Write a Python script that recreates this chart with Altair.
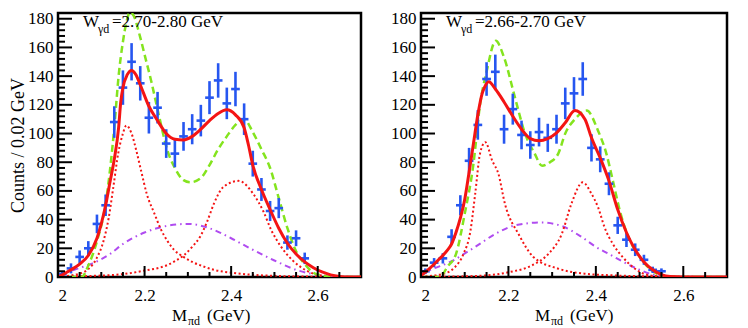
import altair as alt
import numpy as np
import pandas as pd

# ---------------- data: left panel (W = 2.70-2.80 GeV) ----------------
L_x = [round(2.01 + 0.02 * i, 2) for i in range(29)]
L_n = [2, 6, 14, 20, 37, 50, 108, 132, 150, 135, 111, 118, 93, 86, 98, 103, 109,
       125, 137, 121, 131, 110, 79, 61, 46, 48, 24, 27, 13]
L_e = [1.5, 3.5, 4.5, 5, 6.5, 7.5, 11, 12, 13, 12, 11, 11, 10, 9.5, 10, 10.5, 11,
       11.5, 12, 11, 12, 11, 9, 8, 7, 7, 5, 5.5, 4]

L_tot_x = [2.00, 2.01, 2.03, 2.05, 2.07, 2.09, 2.11, 2.12, 2.13, 2.14, 2.145, 2.15, 2.16,
           2.17, 2.18, 2.19, 2.21, 2.23, 2.25, 2.27, 2.29, 2.31, 2.33, 2.35, 2.37, 2.39,
           2.41, 2.43, 2.44, 2.45, 2.47, 2.49, 2.51, 2.53, 2.55, 2.57, 2.59, 2.61, 2.63,
           2.65, 2.67, 2.70]
L_tot_y = [0, 1.5, 5, 9, 15, 27, 50, 66, 82, 104, 122, 132, 141, 144, 141, 134, 119, 109,
           100, 96, 95.5, 98, 103, 109, 114, 116.5, 113, 104, 92, 78, 61, 47, 34, 23.5, 16,
           10.5, 6.5, 3.5, 1.5, 0.4, 0, 0]
L_grn_x = [2.00, 2.055, 2.07, 2.09, 2.11, 2.13, 2.14, 2.15, 2.16, 2.166, 2.175, 2.19, 2.20,
           2.215, 2.234, 2.253, 2.27, 2.29, 2.306, 2.33, 2.35, 2.37, 2.39, 2.41, 2.43, 2.45,
           2.47, 2.49, 2.51, 2.53, 2.55, 2.57, 2.59, 2.61, 2.63, 2.70]
L_grn_y = [0, 0, 8, 25, 51, 104, 140, 164, 180, 184.5, 182, 167, 155, 137, 111.5, 88, 76,
           67.5, 66, 69, 78, 89, 98, 106, 110, 101, 89, 76, 55, 34, 18, 9, 3, 1, 0, 0]
L_pk1_x = [2.00, 2.04, 2.07, 2.09, 2.105, 2.117, 2.128, 2.139, 2.15, 2.158, 2.17, 2.181,
           2.192, 2.205, 2.223, 2.238, 2.253, 2.268, 2.29, 2.31, 2.33, 2.36, 2.40, 2.45,
           2.50, 2.55, 2.60, 2.70]
L_pk1_y = [0.3, 1.6, 5.5, 13.5, 25, 41, 63, 86, 100, 105.6, 100, 88, 74, 58, 44, 33, 25,
           19, 14, 10.5, 8, 5, 3, 1.5, 0.8, 0.4, 0.2, 0]
L_pk2_x = [2.00, 2.10, 2.15, 2.20, 2.25, 2.27, 2.29, 2.31, 2.33, 2.345, 2.36, 2.382, 2.417,
           2.451, 2.474, 2.493, 2.516, 2.542, 2.573, 2.61, 2.65, 2.70]
L_pk2_y = [0.3, 1, 2, 4.5, 8, 11, 15, 21, 29, 39, 51, 62.7, 67, 58, 46, 32.5, 20.8, 11.6,
           4.6, 1, 0.2, 0]
L_bg_x = [2.00, 2.02, 2.05, 2.08, 2.12, 2.15, 2.20, 2.25, 2.30, 2.35, 2.40, 2.45, 2.50,
          2.55, 2.60, 2.65, 2.70]
L_bg_y = [1, 3.3, 6.3, 9.5, 16, 23, 31, 35.5, 37, 34, 27, 19, 11.5, 5, 1.5, 0.2, 0]

# ---------------- data: right panel (W = 2.66-2.70 GeV) ----------------
R_x = [round(2.01 + 0.02 * i, 2) for i in range(28)]
R_n = [4, 10, 13, 28, 50, 81, 106, 138, 143, 103, 117, 99, 92, 101, 97, 103, 121, 128,
       138, 90, 82, 65, 36, 26, 19, 12, 5, 4]
R_e = [2, 3.2, 3.6, 5.3, 7, 9, 10.3, 11.7, 12, 10.1, 10.8, 10, 9.6, 10, 9.8, 10.1, 11,
       11.3, 11.7, 9.5, 9, 8, 6, 5.1, 4.4, 3.5, 2.2, 2]

R_tot_x = [2.00, 2.02, 2.04, 2.06, 2.07, 2.08, 2.09, 2.10, 2.11, 2.12, 2.13, 2.14, 2.145,
           2.155, 2.17, 2.19, 2.21, 2.23, 2.25, 2.27, 2.29, 2.31, 2.33, 2.352, 2.375, 2.39,
           2.41, 2.43, 2.45, 2.47, 2.49, 2.51, 2.53, 2.55, 2.57, 2.60, 2.70]
R_tot_y = [1, 6, 12, 18.5, 23, 31, 41, 54, 73, 93, 113, 128, 132, 136, 131, 122, 112,
           103, 96.5, 95, 96.5, 100.5, 107.5, 116, 110, 97, 83, 67, 47, 31, 19, 10.5, 5,
           1.6, 0.3, 0, 0]
R_grn_x = [2.00, 2.04, 2.05, 2.06, 2.08, 2.10, 2.12, 2.135, 2.15, 2.171, 2.19, 2.215, 2.238,
           2.26, 2.277, 2.295, 2.314, 2.33, 2.352, 2.379, 2.405, 2.424, 2.439, 2.455, 2.474,
           2.496, 2.519, 2.542, 2.56, 2.70]
R_grn_y = [0, 0, 2, 7, 16, 44, 79, 120, 143, 164.6, 153, 125, 100, 86, 77.5, 80, 86, 100,
           110, 116, 102, 86, 67, 46, 28, 16, 7, 2, 0, 0]
R_pk1_x = [2.00, 2.048, 2.078, 2.097, 2.113, 2.124, 2.135, 2.147, 2.163, 2.177, 2.192,
           2.223, 2.257, 2.314, 2.375, 2.45, 2.55, 2.70]
R_pk1_y = [0.3, 2, 7, 16, 32, 58, 86, 94, 81, 72, 51, 30, 14, 5.8, 2.3, 1, 0.3, 0]
R_pk2_x = [2.00, 2.124, 2.20, 2.253, 2.291, 2.322, 2.344, 2.37, 2.39, 2.405, 2.42, 2.439,
           2.462, 2.485, 2.512, 2.54, 2.57, 2.70]
R_pk2_y = [0, 0.7, 3.3, 8, 16, 30, 51, 66, 58, 48.6, 34.6, 23, 13.7, 6.8, 2, 0.5, 0, 0]
R_bg_x = [2.00, 2.01, 2.07, 2.124, 2.17, 2.215, 2.276, 2.322, 2.367, 2.40, 2.436, 2.466,
          2.496, 2.527, 2.55, 2.60, 2.70]
R_bg_y = [1, 3, 11, 21, 30, 36, 38, 35.5, 28, 21, 15, 10, 5.6, 2, 0.7, 0, 0]

# ---------------- text ----------------
PANEL_LABELS = ["=2.70-2.80 GeV", "=2.66-2.70 GeV"]
Y_TITLE = "Counts / 0.02 GeV"
X_TICKS = [2.0, 2.2, 2.4, 2.6]
Y_TICKS = list(range(0, 181, 20))

# ---------------- styling ----------------
H = 264
BLUE = "#2656f0"
RED = "#f41414"
GREEN = "#84e41e"
PURPLE = "#b04cf0"
FONT = "'Liberation Serif', 'Times New Roman', 'DejaVu Serif', serif"

xs = alt.Scale(domain=[2.0, 2.7], nice=False, zero=False)
ys = alt.Scale(domain=[0, 184], nice=False, zero=False)


def make_panel(px, pn, pe, curves, label, ytitle, width):
    xax = alt.Axis(values=X_TICKS, format=".1~f", tickSize=0, domain=False, grid=False,
                   labelPadding=10, title=None)
    if ytitle:
        yax = alt.Axis(values=Y_TICKS, tickSize=0, domain=False, grid=False,
                       labelPadding=5, title=ytitle, titlePadding=0)
    else:
        yax = alt.Axis(values=Y_TICKS, tickSize=0, domain=False, grid=False,
                       labelPadding=5, title=None)

    def X(f):
        return alt.X(f"{f}:Q", scale=xs, axis=xax)

    def Y(f):
        return alt.Y(f"{f}:Q", scale=ys, axis=yax)

    pts = pd.DataFrame({"x": px, "n": pn, "e": pe})
    pts["lo"] = pts["n"] - pts["e"]
    pts["hi"] = pts["n"] + pts["e"]
    pts["xl"] = pts["x"] - 0.01
    pts["xh"] = pts["x"] + 0.01

    layers = []
    (tx, ty), (gx, gy), (p1x, p1y), (p2x, p2y), (bx, by) = curves
    for cx, cy, col, sw, dash in [
        (bx, by, PURPLE, 2, [6, 4, 1.5, 4]),
        (p1x, p1y, RED, 2, [2, 2.5]),
        (p2x, p2y, RED, 2, [2, 2.5]),
        (gx, gy, GREEN, 2.5, [7, 4]),
    ]:
        d = pd.DataFrame({"x": cx, "y": cy})
        layers.append(
            alt.Chart(d).mark_line(color=col, strokeWidth=sw, strokeDash=dash,
                                   interpolate="monotone", clip=True)
            .encode(x=X("x"), y=Y("y"))
        )
    layers.append(
        alt.Chart(pts).mark_rule(color=BLUE, strokeWidth=2.6)
        .encode(x=X("x"), y=Y("lo"), y2="hi:Q")
    )
    layers.append(
        alt.Chart(pts).mark_rule(color=BLUE, strokeWidth=2.6)
        .encode(x=X("xl"), x2="xh:Q", y=Y("n"))
    )
    d = pd.DataFrame({"x": tx, "y": ty})
    layers.append(
        alt.Chart(d).mark_line(color=RED, strokeWidth=3, interpolate="monotone", clip=True)
        .encode(x=X("x"), y=Y("y"))
    )
    ymaj = pd.DataFrame({"v": list(range(0, 181, 20))})
    ymin = pd.DataFrame({"v": [v for v in range(0, 184, 4) if v % 20 != 0]})
    xmaj = pd.DataFrame({"v": X_TICKS})
    xmin = pd.DataFrame({"v": [round(2.0 + 0.05 * i, 2) for i in range(1, 14) if i % 4 != 0]})
    layers.append(alt.Chart(ymaj).mark_rule(color="black", strokeWidth=2)
                  .encode(y=Y("v"), x=alt.value(0), x2=alt.value(14)))
    layers.append(alt.Chart(ymin).mark_rule(color="black", strokeWidth=2)
                  .encode(y=Y("v"), x=alt.value(0), x2=alt.value(7)))
    layers.append(alt.Chart(xmaj).mark_rule(color="black", strokeWidth=2)
                  .encode(x=X("v"), y=alt.value(H), y2=alt.value(H - 11)))
    layers.append(alt.Chart(xmin).mark_rule(color="black", strokeWidth=2)
                  .encode(x=X("v"), y=alt.value(H), y2=alt.value(H - 5)))
    txt = pd.DataFrame({"a": ["W"], "b": ["γd"], "c": [label]})
    layers.append(alt.Chart(txt).mark_text(font=FONT, fontSize=17, align="left",
                                           baseline="alphabetic", color="black")
                  .encode(text="a:N", x=alt.value(25), y=alt.value(14)))
    layers.append(alt.Chart(txt).mark_text(font=FONT, fontSize=12, align="left",
                                           baseline="alphabetic", color="black")
                  .encode(text="b:N", x=alt.value(40), y=alt.value(20)))
    layers.append(alt.Chart(txt).mark_text(font=FONT, fontSize=17, align="left",
                                           baseline="alphabetic", color="black")
                  .encode(text="c:N", x=alt.value(54), y=alt.value(14)))
    xt = pd.DataFrame({"a": ["M"], "b": ["πd"], "c": ["(GeV)"]})
    layers.append(alt.Chart(xt).mark_text(font=FONT, fontSize=17, align="left",
                                          baseline="alphabetic", color="black")
                  .encode(text="a:N", x=alt.value(114), y=alt.value(H + 44)))
    layers.append(alt.Chart(xt).mark_text(font=FONT, fontSize=12, align="left",
                                          baseline="alphabetic", color="black")
                  .encode(text="b:N", x=alt.value(130), y=alt.value(H + 48)))
    layers.append(alt.Chart(xt).mark_text(font=FONT, fontSize=17, align="left",
                                          baseline="alphabetic", color="black")
                  .encode(text="c:N", x=alt.value(149), y=alt.value(H + 44)))

    return alt.layer(*layers).properties(width=width, height=H)


left = make_panel(L_x, L_n, L_e,
                  [(L_tot_x, L_tot_y), (L_grn_x, L_grn_y), (L_pk1_x, L_pk1_y),
                   (L_pk2_x, L_pk2_y), (L_bg_x, L_bg_y)],
                  PANEL_LABELS[0], Y_TITLE, 303)
right = make_panel(R_x, R_n, R_e,
                   [(R_tot_x, R_tot_y), (R_grn_x, R_grn_y), (R_pk1_x, R_pk1_y),
                    (R_pk2_x, R_pk2_y), (R_bg_x, R_bg_y)],
                   PANEL_LABELS[1], None, 306)

chart = (
    alt.hconcat(left, right, spacing=60, bounds="flush")
    .properties(padding={"left": 0, "top": 0, "right": 0, "bottom": 0})
    .configure_view(stroke="black", strokeWidth=2.5)
    .configure_axis(labelFont=FONT, labelFontSize=17, labelColor="black",
                    titleFont=FONT, titleFontSize=18, titleFontWeight="normal",
                    titleColor="black")
)

chart.save("out.html", embed_options={"renderer": "svg", "actions": False})
